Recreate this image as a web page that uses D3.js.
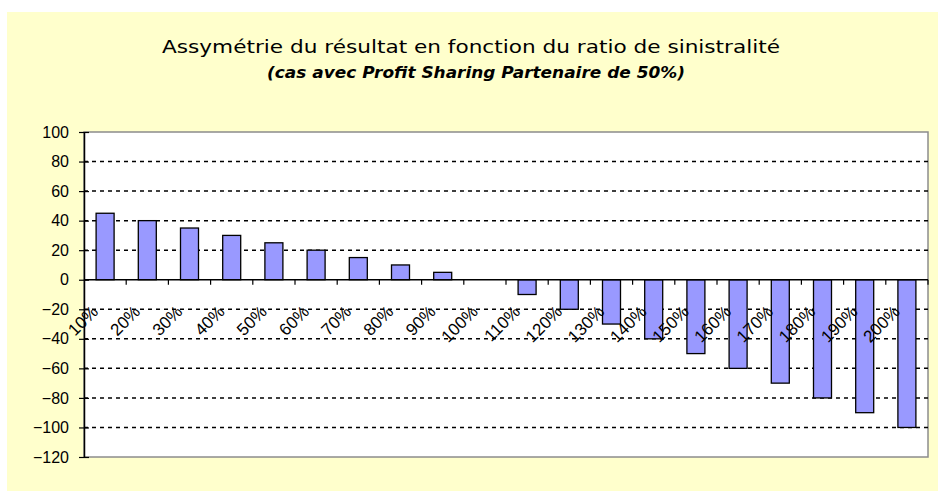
<!DOCTYPE html>
<html>
<head>
<meta charset="utf-8">
<script src="https://cdn.jsdelivr.net/npm/d3@7"></script>
<style>
  html, body { margin: 0; padding: 0; background: #ffffff; }
  svg { display: block; }
</style>
</head>
<body>
<svg id="chart" width="938" height="491"></svg>
<script>
// chart data
var categories = ['10%', '20%', '30%', '40%', '50%', '60%', '70%', '80%', '90%', '100%',
  '110%', '120%', '130%', '140%', '150%', '160%', '170%', '180%', '190%', '200%'];
var resultValues = [45, 40, 35, 30, 25, 20, 15, 10, 5, 0,
  -10, -20, -30, -40, -50, -60, -70, -80, -90, -100];
var yTicks = [-120, -100, -80, -60, -40, -20, 0, 20, 40, 60, 80, 100];

var titleText = 'Assymétrie du résultat en fonction du ratio de sinistralité';
var subtitleText = '(cas avec Profit Sharing Partenaire de 50%)';

var W = 938, H = 491;
var plot = { left: 84, right: 928, top: 132, bottom: 457 };

var svg = d3.select('#chart');

// chart area
svg.append('rect')
  .attr('x', 7).attr('y', 12)
  .attr('width', W - 7).attr('height', H - 12)
  .attr('fill', '#ffffcc');

// titles (the source image is stretched sideways, so fit the widths)
svg.append('text')
  .attr('x', 162).attr('y', 53)
  .attr('textLength', 618)
  .attr('lengthAdjust', 'spacingAndGlyphs')
  .attr('font-family', 'DejaVu Sans, Verdana, sans-serif')
  .attr('font-size', '18px')
  .attr('fill', '#000')
  .text(titleText);

svg.append('text')
  .attr('x', 267).attr('y', 78)
  .attr('textLength', 418)
  .attr('lengthAdjust', 'spacingAndGlyphs')
  .attr('font-family', 'DejaVu Sans, Verdana, sans-serif')
  .attr('font-size', '15px')
  .attr('font-weight', 'bold')
  .attr('font-style', 'italic')
  .attr('fill', '#000')
  .text(subtitleText);

var x = d3.scaleBand()
  .domain(categories)
  .range([plot.left, plot.right])
  .paddingInner(0).paddingOuter(0);

var y = d3.scaleLinear()
  .domain([-120, 100])
  .range([plot.bottom, plot.top]);

// plot area
svg.append('rect')
  .attr('x', plot.left).attr('y', plot.top)
  .attr('width', plot.right - plot.left).attr('height', plot.bottom - plot.top)
  .attr('fill', '#ffffff')
  .attr('stroke', '#8c8c8c')
  .attr('stroke-width', 1.5);

// dashed gridlines
svg.append('g')
  .selectAll('line')
  .data(yTicks.filter(function (d) { return d !== -120 && d !== 100 && d !== 0; }))
  .join('line')
  .attr('x1', plot.left).attr('x2', plot.right)
  .attr('y1', function (d) { return y(d); })
  .attr('y2', function (d) { return y(d); })
  .attr('stroke', '#000')
  .attr('stroke-width', 1.5)
  .attr('stroke-dasharray', '4,4');

// bars
var barW = 18;
svg.append('g')
  .selectAll('rect')
  .data(resultValues.map(function (v, i) { return { cat: categories[i], value: v }; })
    .filter(function (d) { return d.value !== 0; }))
  .join('rect')
  .attr('x', function (d) { return x(d.cat) + x.bandwidth() / 2 - barW / 2; })
  .attr('width', barW)
  .attr('y', function (d) { return y(Math.max(0, d.value)); })
  .attr('height', function (d) { return Math.abs(y(d.value) - y(0)); })
  .attr('fill', '#9999ff')
  .attr('stroke', '#000')
  .attr('stroke-width', 1.3);

// y axis
var yAxis = svg.append('g')
  .attr('transform', 'translate(' + plot.left + ',0)')
  .call(d3.axisLeft(y).tickValues(yTicks).tickSizeInner(6).tickSizeOuter(0).tickPadding(9));
yAxis.select('.domain').attr('stroke', '#000').attr('stroke-width', 1.5);
yAxis.selectAll('.tick line').attr('x2', 5).attr('x1', -5).attr('stroke-width', 1.2);
yAxis.selectAll('.tick text')
  .attr('font-family', 'Liberation Sans, Arial, sans-serif')
  .attr('font-size', '16px')
  .attr('fill', '#000');

// x axis on zero line
var xAxis = svg.append('g')
  .attr('transform', 'translate(0,' + y(0) + ')');
xAxis.append('line')
  .attr('x1', plot.left).attr('x2', plot.right)
  .attr('stroke', '#000').attr('stroke-width', 1.5);
xAxis.selectAll('line.tk')
  .data(categories)
  .join('line')
  .attr('class', 'tk')
  .attr('x1', function (d) { return x(d) + x.bandwidth(); })
  .attr('x2', function (d) { return x(d) + x.bandwidth(); })
  .attr('y1', 0).attr('y2', 5)
  .attr('stroke', '#000').attr('stroke-width', 1.2);

var xLabels = xAxis.selectAll('g.lbl')
  .data(categories)
  .join('g')
  .attr('class', 'lbl')
  .attr('transform', function (d) {
    return 'translate(' + (x(d) + x.bandwidth() / 2 - 6) + ',33)';
  });
xLabels.append('text')
  .attr('transform', 'rotate(-45)')
  .attr('text-anchor', 'end')
  .attr('font-family', 'Liberation Sans, Arial, sans-serif')
  .attr('font-size', '17px')
  .attr('fill', '#000')
  .text(function (d) { return d; });
</script>
</body>
</html>
